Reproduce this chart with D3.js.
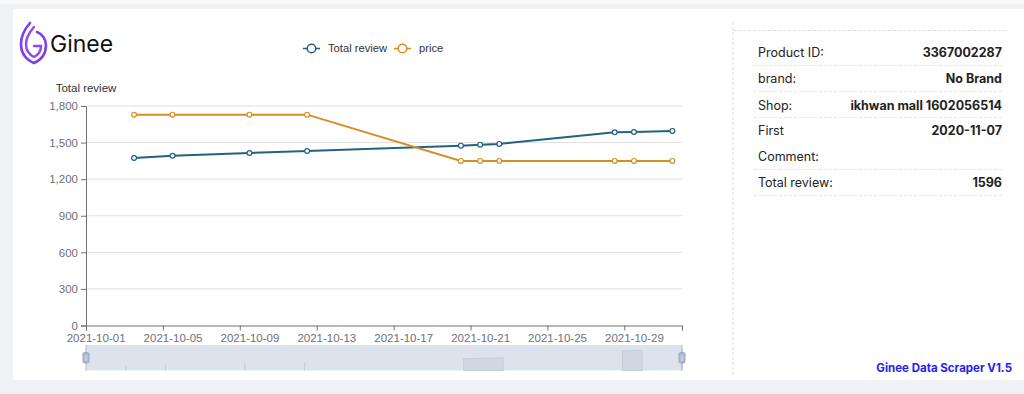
<!DOCTYPE html>
<html>
<head>
<meta charset="utf-8">
<script src="https://cdn.jsdelivr.net/npm/d3@7"></script>
<style>
  html, body { margin: 0; padding: 0; background: #f0f1f5; }
  svg { display: block; }
  .ax text { font-family: "Liberation Sans", Arial, sans-serif; font-size: 11.5px; fill: #6e7079; }
  .panel text { font-family: Inter, "Liberation Sans", sans-serif; font-size: 12.5px; fill: #222; }
</style>
</head>
<body>
<script>
// chart data
var dates = ["2021-10-03", "2021-10-05", "2021-10-09", "2021-10-12", "2021-10-20",
             "2021-10-21", "2021-10-22", "2021-10-28", "2021-10-29", "2021-10-31"];
var totalReview = [1374, 1392, 1415, 1431, 1475, 1483, 1489, 1584, 1587, 1596];
var price = [1729, 1729, 1729, 1729, 1350, 1350, 1350, 1350, 1350, 1350];
var yTicks = [0, 300, 600, 900, 1200, 1500, 1800];
var xTicks = ["2021-10-01", "2021-10-05", "2021-10-09", "2021-10-13", "2021-10-17",
              "2021-10-21", "2021-10-25", "2021-10-29"];
var seriesNames = ["Total review", "price"];
var seriesColors = ["#24627f", "#d38f23"];

// product info panel
var infoLabels = ["Product ID:", "brand:", "Shop:", "First", "Comment:", "Total review:"];
var infoValues = ["3367002287", "No Brand", "ikhwan mall 1602056514", "2020-11-07", "", "1596"];

var parseDay = d3.timeParse("%Y-%m-%d");
var parseTime = d3.timeParse("%Y-%m-%d %H:%M");

var svg = d3.select("body").append("svg")
  .attr("width", 1024).attr("height", 394);

// page + card
svg.append("rect").attr("x", 0).attr("y", 0).attr("width", 1024).attr("height", 4).attr("fill", "#f8f8fa");
svg.append("rect").attr("x", 13).attr("y", 9).attr("width", 1020).attr("height", 371)
  .attr("rx", 3).attr("fill", "#fff");

// logo
var logo = svg.append("g").attr("transform", "translate(21,22)");
logo.append("path")
  .attr("d", "M9,1 C2,9 0,16 0,22 C0,32 6,38 13,41 C20,38 25,32 25,23 C25,17 21,12 16,10")
  .attr("fill", "none").attr("stroke", "#7b3ff2").attr("stroke-width", 2.6).attr("stroke-linecap", "round");
logo.append("path")
  .attr("d", "M13,5 C7,12 5,17 5,22 C5,29 9,33 13,35 C17,33 20,29 20,24 L13,24")
  .attr("fill", "none").attr("stroke", "#8a4af6").attr("stroke-width", 2.4).attr("stroke-linecap", "round");
svg.append("text").attr("x", 50).attr("y", 52)
  .attr("font-family", "Inter, 'Liberation Sans', sans-serif").attr("font-size", 23)
  .attr("fill", "#111").text("Ginee");

// scales
var x = d3.scaleTime()
  .domain([parseDay("2021-10-01"), parseDay("2021-11-01")])
  .range([86, 682]);
var y = d3.scaleLinear().domain([0, 1800]).range([325.5, 106]);
var halfDay = (x(parseDay("2021-10-02")) - x(parseDay("2021-10-01"))) / 2;

var chart = svg.append("g").attr("class", "ax");

// grid lines
chart.append("g").selectAll("line").data(yTicks.slice(1)).join("line")
  .attr("x1", 86).attr("x2", 682)
  .attr("y1", function(d) { return y(d); }).attr("y2", function(d) { return y(d); })
  .attr("stroke", "#e0e0e0");

// y axis
var yAxis = chart.append("g").attr("transform", "translate(86,0)")
  .call(d3.axisLeft(y).tickValues(yTicks).tickFormat(d3.format(",")).tickSize(5).tickPadding(3));
yAxis.select(".domain").attr("stroke", "#6e7079");
yAxis.selectAll(".tick line").attr("stroke", "#6e7079");
yAxis.selectAll("text").attr("fill", "#6e7079");

chart.append("text").attr("x", 86).attr("y", 92).attr("text-anchor", "middle")
  .style("fill", "#333").text("Total review");

// x axis (labels sit half a day right of their tick, like the original)
var xVals = xTicks.map(parseDay).concat([x.domain()[1]]);
var xAxis = chart.append("g").attr("transform", "translate(0,325.5)")
  .call(d3.axisBottom(x).tickValues(xVals).tickSize(5).tickPadding(3)
    .tickFormat(function(d, i) { return i < xTicks.length ? xTicks[i] : ""; }));
xAxis.select(".domain").attr("stroke", "#6e7079");
xAxis.selectAll(".tick line").attr("stroke", "#6e7079");
xAxis.selectAll("text").attr("fill", "#6e7079").attr("dx", halfDay);

// series
var rows = dates.map(function(d, i) {
  return { t: parseTime(d + " 12:00"), v: [totalReview[i], price[i]] };
});
[0, 1].forEach(function(k) {
  var line = d3.line()
    .x(function(d) { return x(d.t); })
    .y(function(d) { return y(d.v[k]); });
  chart.append("path").datum(rows).attr("d", line)
    .attr("fill", "none").attr("stroke", seriesColors[k]).attr("stroke-width", 2);
  chart.append("g").selectAll("circle").data(rows).join("circle")
    .attr("cx", function(d) { return x(d.t); })
    .attr("cy", function(d) { return y(d.v[k]); })
    .attr("r", 2.4).attr("fill", "#fff").attr("stroke", seriesColors[k]).attr("stroke-width", 1.2);
});

// legend
var legendX = [303, 394];
seriesNames.forEach(function(name, k) {
  var g = svg.append("g").attr("transform", "translate(" + legendX[k] + ",48.5)");
  g.append("line").attr("x1", 0).attr("x2", 17).attr("stroke", seriesColors[k]).attr("stroke-width", 1.5);
  g.append("circle").attr("cx", 8.5).attr("r", 4.3).attr("fill", "#fff")
    .attr("stroke", seriesColors[k]).attr("stroke-width", 1.5);
  g.append("text").attr("x", 25).attr("dy", "0.35em")
    .attr("font-family", "'Liberation Sans', Arial, sans-serif").attr("font-size", 11.2)
    .attr("fill", "#333").text(name);
});

// data zoom slider
var sTop = 345, sBot = 370.5;
var zoom = svg.append("g");
zoom.append("rect").attr("x", 86).attr("y", sTop).attr("width", 596).attr("height", sBot - sTop)
  .attr("fill", "#dde3ec");
var dayX = d3.scaleLinear().domain([1, 31]).range([86, 682]);
var shadowY = d3.scaleLinear().domain([1320, 1660]).range([sBot, sTop]);
var daily = d3.range(1, 32).map(function(day) {
  var i = dates.findIndex(function(d) { return parseDay(d).getDate() === day; });
  return { day: day, v: i < 0 ? null : totalReview[i] };
});
var shadow = d3.area()
  .defined(function(d) { return d.v !== null; })
  .x(function(d) { return dayX(d.day); })
  .y0(sBot)
  .y1(function(d) { return shadowY(d.v); });
zoom.append("path").datum(daily).attr("d", shadow)
  .attr("fill", "#d0d7e2").attr("stroke", "#c6cedb").attr("stroke-width", 1);
[86, 682].forEach(function(hx) {
  zoom.append("line").attr("x1", hx).attr("x2", hx).attr("y1", sTop).attr("y2", sBot)
    .attr("stroke", "#a9b8cf").attr("stroke-width", 1);
  zoom.append("rect").attr("x", hx - 3).attr("y", 352.5).attr("width", 6).attr("height", 10.5)
    .attr("rx", 1.5).attr("fill", "#a8b7cd").attr("stroke", "#9aabc4");
  [356, 358, 360].forEach(function(ly) {
    zoom.append("line").attr("x1", hx - 1.5).attr("x2", hx + 1.5).attr("y1", ly).attr("y2", ly)
      .attr("stroke", "#e8edf4").attr("stroke-width", 0.8);
  });
});

// info panel
var panel = svg.append("g").attr("class", "panel");
panel.append("line").attr("x1", 733).attr("x2", 733).attr("y1", 22).attr("y2", 376)
  .attr("stroke", "#ddd").attr("stroke-dasharray", "3,2");
panel.append("line").attr("x1", 733).attr("x2", 1007).attr("y1", 30.5).attr("y2", 30.5)
  .attr("stroke", "#ddd").attr("stroke-dasharray", "3,2");
var rowY = [52.5, 79, 105.5, 131, 156.5, 182.5];
var dividerY = [65.5, 91.5, 117.5, null, 169.5, 195.5];
infoLabels.forEach(function(lbl, i) {
  panel.append("text").attr("x", 758).attr("y", rowY[i]).attr("dy", "0.35em").text(lbl);
  panel.append("text").attr("x", 1002).attr("y", rowY[i]).attr("dy", "0.35em")
    .attr("text-anchor", "end").attr("font-weight", "bold").text(infoValues[i]);
  if (dividerY[i] !== null) {
    panel.append("line").attr("x1", 754).attr("x2", 1003)
      .attr("y1", dividerY[i]).attr("y2", dividerY[i])
      .attr("stroke", "#e4e4e4").attr("stroke-dasharray", "3,2");
  }
});
panel.append("text").attr("x", 1012).attr("y", 368).attr("dy", "0.35em")
  .attr("text-anchor", "end").attr("font-weight", "bold")
  .style("fill", "#1f23f0").style("font-size", "11.5px").text("Ginee Data Scraper V1.5");
</script>
</body>
</html>
